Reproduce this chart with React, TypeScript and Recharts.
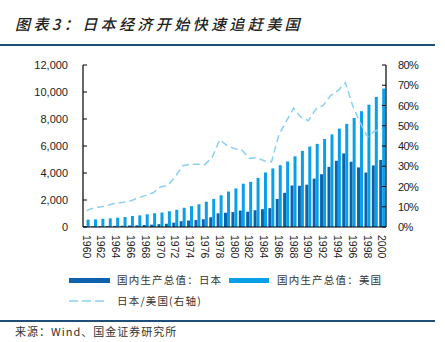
import React from 'react';
import { ComposedChart, Bar, Line, XAxis, YAxis } from 'recharts';

const years = ['1960','1961','1962','1963','1964','1965','1966','1967','1968','1969','1970','1971','1972','1973','1974','1975','1976','1977','1978','1979','1980','1981','1982','1983','1984','1985','1986','1987','1988','1989','1990','1991','1992','1993','1994','1995','1996','1997','1998','1999','2000'];
const japanGdp = [44,54,61,70,82,91,106,124,147,172,213,240,318,432,480,522,576,721,1014,1055,1105,1219,1134,1243,1318,1399,2079,2533,3072,3054,3133,3584,3909,4454,4907,5449,4834,4415,4033,4562,4968];
const usGdp = [543,563,605,638,686,744,815,862,942,1019,1073,1165,1279,1425,1545,1684,1873,2082,2352,2627,2857,3207,3343,3634,4037,4339,4580,4855,5236,5641,5963,6158,6520,6859,7287,7640,8073,8578,9063,9631,10252];
const ratioPct = [8.1,9.5,10.0,10.9,11.9,12.2,13.0,14.4,15.6,16.9,19.8,20.6,24.9,30.3,31.0,31.0,30.8,34.6,43.1,40.2,38.7,38.0,33.9,34.2,32.7,32.2,45.4,52.2,58.7,54.1,52.5,58.2,60.0,64.9,67.3,71.3,59.9,51.5,44.5,47.4,48.5];
const leftTicks = [0,2000,4000,6000,8000,10000,12000];
const rightTicks = [0,10,20,30,40,50,60,70,80];

const data = years.map((y, i) => ({ year: y, japan: japanGdp[i], us: usGdp[i], ratio: ratioPct[i] }));

const DARK = '#0e62ad';
const LIGHT = '#0aa0e8';
const DASH = '#8ccff3';
const TICK_FONT = '"Liberation Sans", Arial, sans-serif';
const CJK = '"Noto Sans CJK SC", sans-serif';

const fmt = (v: number) => v.toLocaleString('en-US');

const LeftTick = (props: any) => {
  const { x, y, payload } = props;
  return (
    <g>
      <line x1={x + 15} x2={x + 19} y1={y} y2={y} stroke="#000" strokeWidth={1} />
      <text x={x} y={y} textAnchor="end" dominantBaseline="central" fontSize={11} fontFamily={TICK_FONT} fill="#222">{fmt(payload.value)}</text>
    </g>
  );
};

const RightTick = (props: any) => {
  const { x, y, payload } = props;
  return (
    <g>
      <line x1={x - 12} x2={x - 16} y1={y} y2={y} stroke="#000" strokeWidth={1} />
      <text x={x} y={y} textAnchor="start" dominantBaseline="central" fontSize={11} letterSpacing={-0.6} fontFamily={TICK_FONT} fill="#222">{payload.value + '%'}</text>
    </g>
  );
};

const BottomTick = (props: any) => {
  const { x, y, payload } = props;
  return (
    <text x={x} y={y} transform={`rotate(90, ${x}, ${y})`} textAnchor="start" dominantBaseline="central" fontSize={10.5} fontFamily={TICK_FONT} fill="#222">{payload.value}</text>
  );
};

export default function App() {
  return (
    <div style={{ position: 'absolute', left: 0, top: 0, width: 445, height: 342, background: '#fff', overflow: 'hidden' }}>
      <div style={{ position: 'absolute', left: 15, top: 14, fontFamily: CJK, fontSize: 15, fontStyle: 'italic', fontWeight: 500, letterSpacing: 3.4, color: '#222', lineHeight: '20px', whiteSpace: 'nowrap' }}>
        图表3：日本经济开始快速追赶美国
      </div>
      <div style={{ position: 'absolute', left: 0, top: 44, width: 435, height: 2, background: '#1f4e79' }} />
      <div style={{ position: 'absolute', left: 0, top: 0 }}>
        <ComposedChart width={445} height={342} data={data} margin={{ top: 65, right: 0, bottom: 85, left: 0 }} barGap={0} barCategoryGap="8%">
          <XAxis dataKey="year" interval={1} axisLine={{ stroke: '#000', strokeWidth: 1.2 }} tickLine={false} tickSize={0} tickMargin={8} height={30} tick={<BottomTick />} />
          <YAxis yAxisId="left" orientation="left" width={83} domain={[0, 12000]} ticks={leftTicks} axisLine={{ stroke: '#000', strokeWidth: 1.2 }} tickLine={false} tickSize={0} tickMargin={15} tick={<LeftTick />} interval={0} />
          <YAxis yAxisId="right" orientation="right" width={59} domain={[0, 80]} ticks={rightTicks} axisLine={{ stroke: '#000', strokeWidth: 1.2 }} tickLine={false} tickSize={0} tickMargin={12} tick={<RightTick />} interval={0} />
          <Bar yAxisId="left" dataKey="japan" fill={DARK} isAnimationActive={false} />
          <Bar yAxisId="left" dataKey="us" fill={LIGHT} isAnimationActive={false} />
          <Line yAxisId="right" dataKey="ratio" stroke={DASH} strokeWidth={1.5} strokeDasharray="7 4" dot={false} type="linear" isAnimationActive={false} />
        </ComposedChart>
      </div>
      <div style={{ position: 'absolute', left: 69, top: 278, width: 41, height: 5, background: DARK }} />
      <div style={{ position: 'absolute', left: 117, top: 272, fontFamily: CJK, fontSize: 10.5, letterSpacing: 1.2, color: '#333', lineHeight: '16px', whiteSpace: 'nowrap' }}>国内生产总值：日本</div>
      <div style={{ position: 'absolute', left: 229, top: 278, width: 40, height: 5, background: LIGHT }} />
      <div style={{ position: 'absolute', left: 277, top: 272, fontFamily: CJK, fontSize: 10.5, letterSpacing: 1.2, color: '#333', lineHeight: '16px', whiteSpace: 'nowrap' }}>国内生产总值：美国</div>
      <svg style={{ position: 'absolute', left: 69, top: 298 }} width={40} height={6}>
        <line x1={0} x2={38} y1={3} y2={3} stroke={DASH} strokeWidth={1.5} strokeDasharray="9 4" />
      </svg>
      <div style={{ position: 'absolute', left: 117, top: 293, fontFamily: CJK, fontSize: 10.5, letterSpacing: 1.2, color: '#333', lineHeight: '16px', whiteSpace: 'nowrap' }}>日本/美国(右轴)</div>
      <div style={{ position: 'absolute', left: 0, top: 320, width: 435, height: 2, background: '#1f4e79' }} />
      <div style={{ position: 'absolute', left: 15, top: 323, fontFamily: CJK, fontSize: 11, letterSpacing: 1, color: '#333', lineHeight: '16px', whiteSpace: 'nowrap' }}>来源：Wind、国金证券研究所</div>
    </div>
  );
}
